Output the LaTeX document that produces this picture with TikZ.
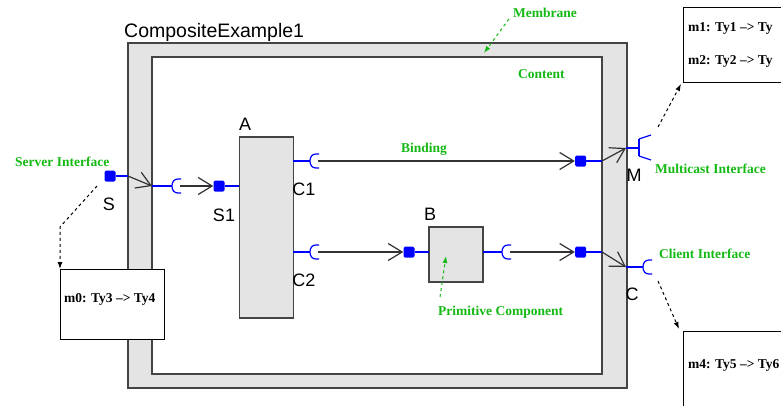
\documentclass[tikz,border=0pt]{standalone}
\usepackage{fontspec}
\setmainfont{Liberation Serif}
\setsansfont{Liberation Sans}
\usetikzlibrary{arrows.meta}
\definecolor{labgreen}{RGB}{20,185,20}
\definecolor{portblue}{RGB}{0,0,255}
\definecolor{membgray}{RGB}{228,228,228}
\definecolor{framegray}{RGB}{68,68,68}
\definecolor{bindgray}{RGB}{50,50,50}
\tikzset{
  frame/.style={draw=framegray, line width=1.4pt},
  compbox/.style={draw=framegray, line width=1.4pt, fill=membgray, inner sep=0pt},
  port/.style={fill=portblue, draw=none, rounded corners=1.5pt, minimum size=11pt, inner sep=0pt},
  itf/.style={draw=portblue, line width=1.2pt},
  bind/.style={draw=bindgray, line width=1.2pt, -{Straight Barb[length=14pt,width=17pt,line width=1.2pt]}},
  lbl/.style={font=\sffamily\fontsize{18}{18}\selectfont, text=black, inner sep=0pt},
  glbl/.style={font=\bfseries\fontsize{13.5}{15}\selectfont, text=labgreen, inner sep=0pt, anchor=base west},
  notetext/.style={font=\bfseries\fontsize{13.5}{15}\selectfont, text=black, inner sep=0pt, anchor=base west},
  notebox/.style={draw=black, line width=1pt, fill=white},
  notearrow/.style={draw=black, line width=1pt, dash pattern=on 3pt off 3pt, -{Latex[length=7pt,width=5pt]}},
  greenarrow/.style={draw=labgreen, line width=1pt, dash pattern=on 3pt off 3pt, -{Latex[length=7pt,width=5pt]}},
  socket/.pic={\draw[itf] (9,-7) -- (6,-7) .. controls (2,-7) and (0,-4) .. (0,0) .. controls (0,4) and (2,7) .. (6,7) -- (9,7);},
  multicast/.pic={\draw[itf] (0,-9) -- (0,8); \draw[itf] (0,-9) -- (12,-13); \draw[itf] (0,8) -- (12,12);}
}
\begin{document}
\begin{tikzpicture}[x=1pt,y=-1pt]
\useasboundingbox (0,0) rectangle (781,405);
\clip (0,0) rectangle (781,405);

% membrane and content
\draw[frame, fill=membgray] (128,43) rectangle (627,388);
\draw[frame, fill=white] (152,57) rectangle (602,374);
\node[lbl, font=\sffamily\fontsize{19.5}{20}\selectfont, anchor=base west] (title) at (124,37) {CompositeExample1};

% components
\node[compbox, minimum width=54pt, minimum height=181pt] (A) at (266.5,227.5) {};
\node[compbox, minimum width=54pt, minimum height=55pt] (B) at (456,254.5) {};
\node[lbl] (labA) at (245,124) {A};
\node[lbl] (labB) at (430,214) {B};

% key coordinates
\coordinate (mSo) at (128,176);
\coordinate (mSi) at (152,186);
\coordinate (sS1) at (172,186);
\coordinate (sS1e) at (180,186);
\coordinate (aS1) at (239,186);
\coordinate (aC1) at (293,161);
\coordinate (sC1) at (310,161);
\coordinate (sC1e) at (318,161);
\coordinate (aC2) at (293,252);
\coordinate (sC2) at (310,252);
\coordinate (sC2e) at (318,252);
\coordinate (bS) at (429,252);
\coordinate (bC) at (483,252);
\coordinate (sB) at (502,252);
\coordinate (sBe) at (510,252);
\coordinate (mMi) at (602,161);
\coordinate (mMo) at (626,148);
\coordinate (mMm) at (639,148);
\coordinate (mCi) at (602,252);
\coordinate (mCo) at (626,267);
\coordinate (mCs) at (643,267);

% ports
\node[port] (pS) at (110,176) {};
\node[port] (pS1) at (219,186) {};
\node[port] (pM) at (580.5,161) {};
\node[port] (pB) at (409,252) {};
\node[port] (pC) at (580.5,252) {};

% interface lines
\draw[itf] (pS) -- (mSo);
\draw[itf] (mSi) -- (sS1);
\pic at (sS1) {socket};
\draw[itf] (pS1) -- (aS1);
\draw[itf] (aC1) -- (sC1);
\pic at (sC1) {socket};
\draw[itf] (aC2) -- (sC2);
\pic at (sC2) {socket};
\draw[itf] (pB) -- (bS);
\draw[itf] (bC) -- (sB);
\pic at (sB) {socket};
\draw[itf] (pM) -- (mMi);
\draw[itf] (pC) -- (mCi);
\draw[itf] (mMo) -- (mMm);
\pic at (mMm) {multicast};
\draw[itf] (mCo) -- (mCs);
\pic at (mCs) {socket};

% bindings
\draw[bind] (mSo) -- (mSi);
\draw[bind] (sS1e) -- (pS1);
\draw[bind] (sC1e) -- (pM);
\draw[bind] (sC2e) -- (pB);
\draw[bind] (sBe) -- (pC);
\draw[bind] (mMi) -- (mMo);
\draw[bind] (mCi) -- (mCo);

% interface labels
\node[lbl] (labS) at (109,204) {S};
\node[lbl] (labS1) at (224,215) {S1};
\node[lbl] (labC1) at (304,189) {C1};
\node[lbl] (labC2) at (304,280) {C2};
\node[lbl] (labM) at (634,175) {M};
\node[lbl] (labC) at (632,294) {C};

% green annotations
\node[glbl] (gMemb) at (513,17) {Membrane};
\node[glbl] (gCont) at (518,78) {Content};
\node[glbl] (gBind) at (401,152) {Binding};
\node[glbl] (gServ) at (15,166) {Server Interface};
\node[glbl] (gMult) at (655,173) {Multicast Interface};
\node[glbl] (gCli) at (659,258) {Client Interface};
\node[glbl] (gPrim) at (438,315) {Primitive Component};
\coordinate (gm1) at (509,19);
\coordinate (gm2) at (484,53);
\draw[greenarrow] (gm1) -- (gm2);
\coordinate (gp1) at (440,297);
\coordinate (gp2) at (446,256);
\draw[greenarrow] (gp1) -- (gp2);

% notes
\draw[notebox] (60,269) rectangle (164,339);
\coordinate (m0top) at (60,269);
\node[notetext] (m0) at (64,302) {m0: Ty3 –> Ty4};
\draw[notebox] (683,7) rectangle (820,82);
\node[notetext] (m1) at (688,31) {m1: Ty1 –> Ty};
\node[notetext] (m2) at (688,64) {m2: Ty2 –> Ty};
\draw[notebox] (683,331) rectangle (820,430);
\node[notetext] (m4) at (688,368) {m4: Ty5 –> Ty6};

\coordinate (n0a) at (97,186);
\coordinate (n0b) at (60,227);
\draw[notearrow] (n0a) -- (n0b) -- (m0top);
\coordinate (n1a) at (658,127);
\coordinate (n1b) at (681,84);
\draw[notearrow] (n1a) -- (n1b);
\coordinate (n4a) at (658,281);
\coordinate (n4b) at (679,329);
\draw[notearrow] (n4a) -- (n4b);
\end{tikzpicture}
\end{document}
